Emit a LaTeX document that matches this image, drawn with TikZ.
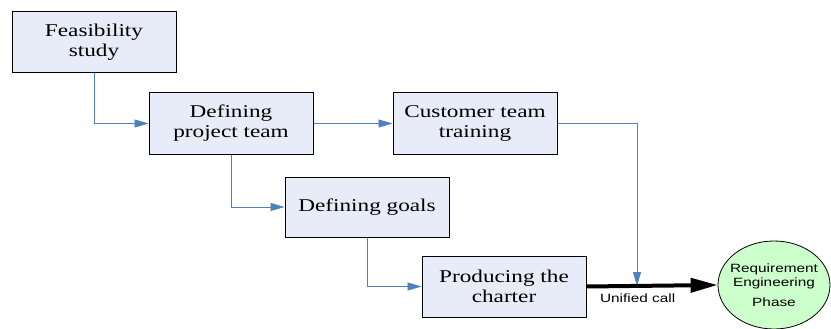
\documentclass[tikz,border=0pt]{standalone}
\usepackage{fontspec}
\setmainfont[FakeStretch=1.29]{Liberation Serif}
\setsansfont[FakeStretch=1.28]{Liberation Sans}
\usetikzlibrary{arrows.meta,shapes.geometric}
\definecolor{boxfill}{HTML}{E8ECF8}
\definecolor{linkblue}{HTML}{4F81BD}
\definecolor{phasefill}{HTML}{CCFFCC}
\begin{document}
\begin{tikzpicture}[x=1pt,y=-1pt,
  stepbox/.style={draw=black, line width=1pt, fill=boxfill, minimum width=164pt, minimum height=61pt, align=center, inner sep=0pt, font=\fontsize{18}{20}\selectfont},
  link/.style={draw=linkblue, line width=0.8pt, -{Triangle[length=14pt,width=8pt]}},
  sanslabel/.style={font=\sffamily\fontsize{12}{14}\selectfont, text=black, inner sep=0pt, align=center},
  ]
\useasboundingbox (0,0) rectangle (831,329);
\node[stepbox] (fs) at (94,42.5) {Feasibility\\study};
\node[stepbox] (dpt) at (231,123.5) {Defining\\project team};
\node[stepbox] (ctt) at (475,123.5) {Customer team\\training};
\node[stepbox, minimum height=60pt] (dg) at (367,207) {Defining goals};
\node[stepbox] (pc) at (504,286.5) {Producing the\\charter};
\node[ellipse, draw=black, line width=0.8pt, fill=phasefill, minimum width=112pt, minimum height=88pt, inner sep=0pt] (rep) at (774,285) {};
\node[sanslabel] (reptext) at (rep.center) {Requirement\\Engineering\\[6pt]Phase};
\coordinate (j) at (637,286);
\draw[link] (fs.south) |- (dpt.west);
\draw[link] (dpt.east) -- (ctt.west);
\draw[link] (dpt.south) |- (dg.west);
\draw[link] (dg.south) |- (pc.west);
\draw[link] (ctt.east) -| (j);
\draw[line width=4pt, -{Triangle[length=27pt,width=14pt]}] (pc.east) -- (rep.west)
  node[pos=0.39, below=6pt, sanslabel] (uc) {Unified call};
\end{tikzpicture}
\end{document}
